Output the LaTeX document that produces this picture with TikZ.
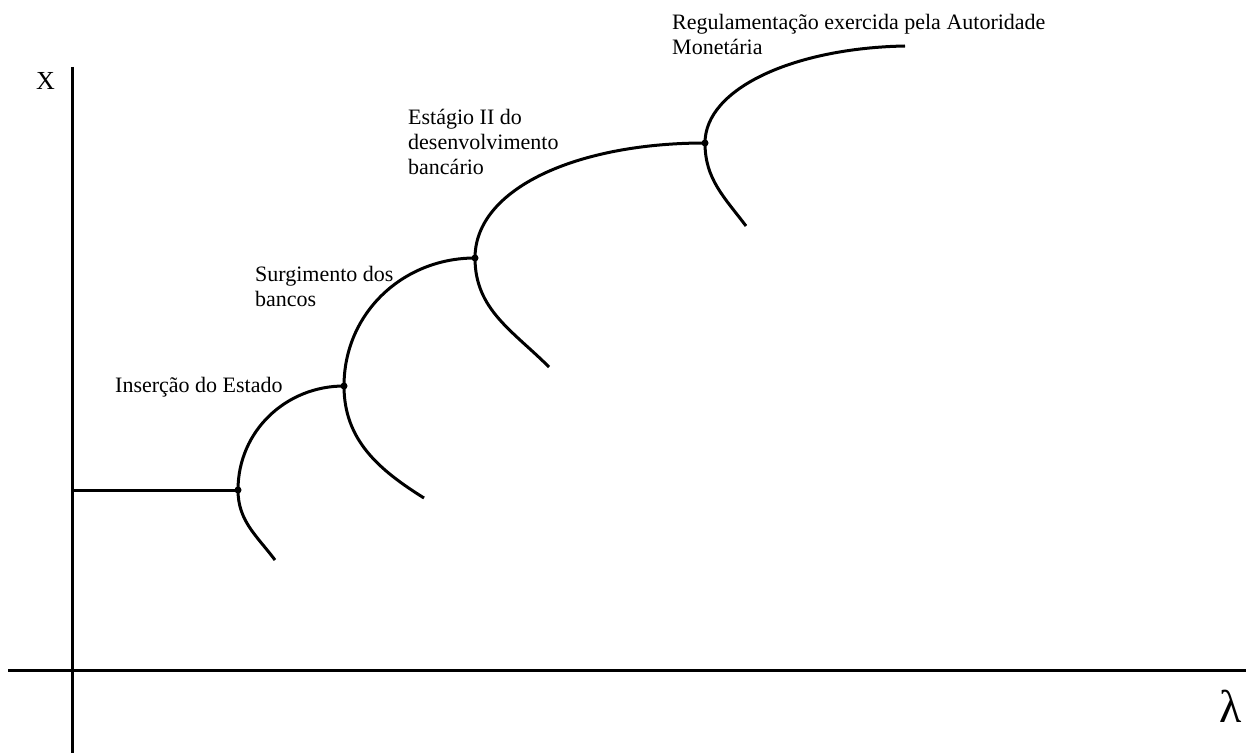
\documentclass[tikz,border=0pt]{standalone}
\usepackage{fontspec}
\setmainfont{Liberation Serif}
\begin{document}
\begin{tikzpicture}[x=1pt,y=1pt,
  axis/.style={line width=3pt},
  curve/.style={line width=3pt},
  lbl/.style={anchor=base west,inner sep=0pt,align=left,font=\fontsize{22}{25}\selectfont},
  pt/.style={circle,fill=black,inner sep=0pt,minimum size=7pt}]
\useasboundingbox (0,0) rectangle (1246,753);
% axes
\coordinate (ytop) at (72,686);
\coordinate (ybot) at (72,0);
\coordinate (xl) at (8,83);
\coordinate (xr) at (1246,83);
\draw[axis] (ytop) -- (ybot);
\draw[axis] (xl) -- (xr);
\node[anchor=base west,inner sep=0pt,font=\fontsize{26}{28}\selectfont] (xlab) at (36,663) {X};
\node[anchor=base west,inner sep=0pt,font=\fontsize{46}{50}\selectfont] (lam) at (1219,31) {λ};
% junction points
\coordinate (h0) at (72,263);
\node[pt] (v1) at (238,263) {};
\node[pt] (v2) at (344,367) {};
\node[pt] (v3) at (475,495) {};
\node[pt] (v4) at (705,610) {};
\coordinate (t4) at (905,707);
\coordinate (l1) at (275,193);
\coordinate (l2) at (424,255);
\coordinate (l3) at (549,386);
\coordinate (l4) at (746,527);
\draw[curve] (h0) -- (v1.center);
% upper branches
\draw[curve] (v1.center) .. controls (238,322) and (286,367) .. (v2.center);
\draw[curve] (v2.center) .. controls (344,440) and (403,495) .. (v3.center);
\draw[curve] (v3.center) .. controls (475,565) and (578,610) .. (v4.center);
\draw[curve] (v4.center) .. controls (705,665) and (795,705) .. (t4);
% lower branches
\draw[curve] (v1.center) to[out=270,in=127] (l1);
\draw[curve] (v2.center) to[out=270,in=148] (l2);
\draw[curve] (v3.center) to[out=270,in=135] (l3);
\draw[curve] (v4.center) to[out=270,in=127] (l4);
% labels (base anchor = baseline of the last line)
\node[lbl] (a) at (115,361) {Inserção do Estado};
\node[lbl] (b) at (255,446) {Surgimento dos\\bancos};
\node[lbl] (c) at (408,578) {Estágio II do\\desenvolvimento\\bancário};
\node[lbl] (d) at (672,698) {Regulamentação exercida pela Autoridade\\Monetária};
\end{tikzpicture}
\end{document}
